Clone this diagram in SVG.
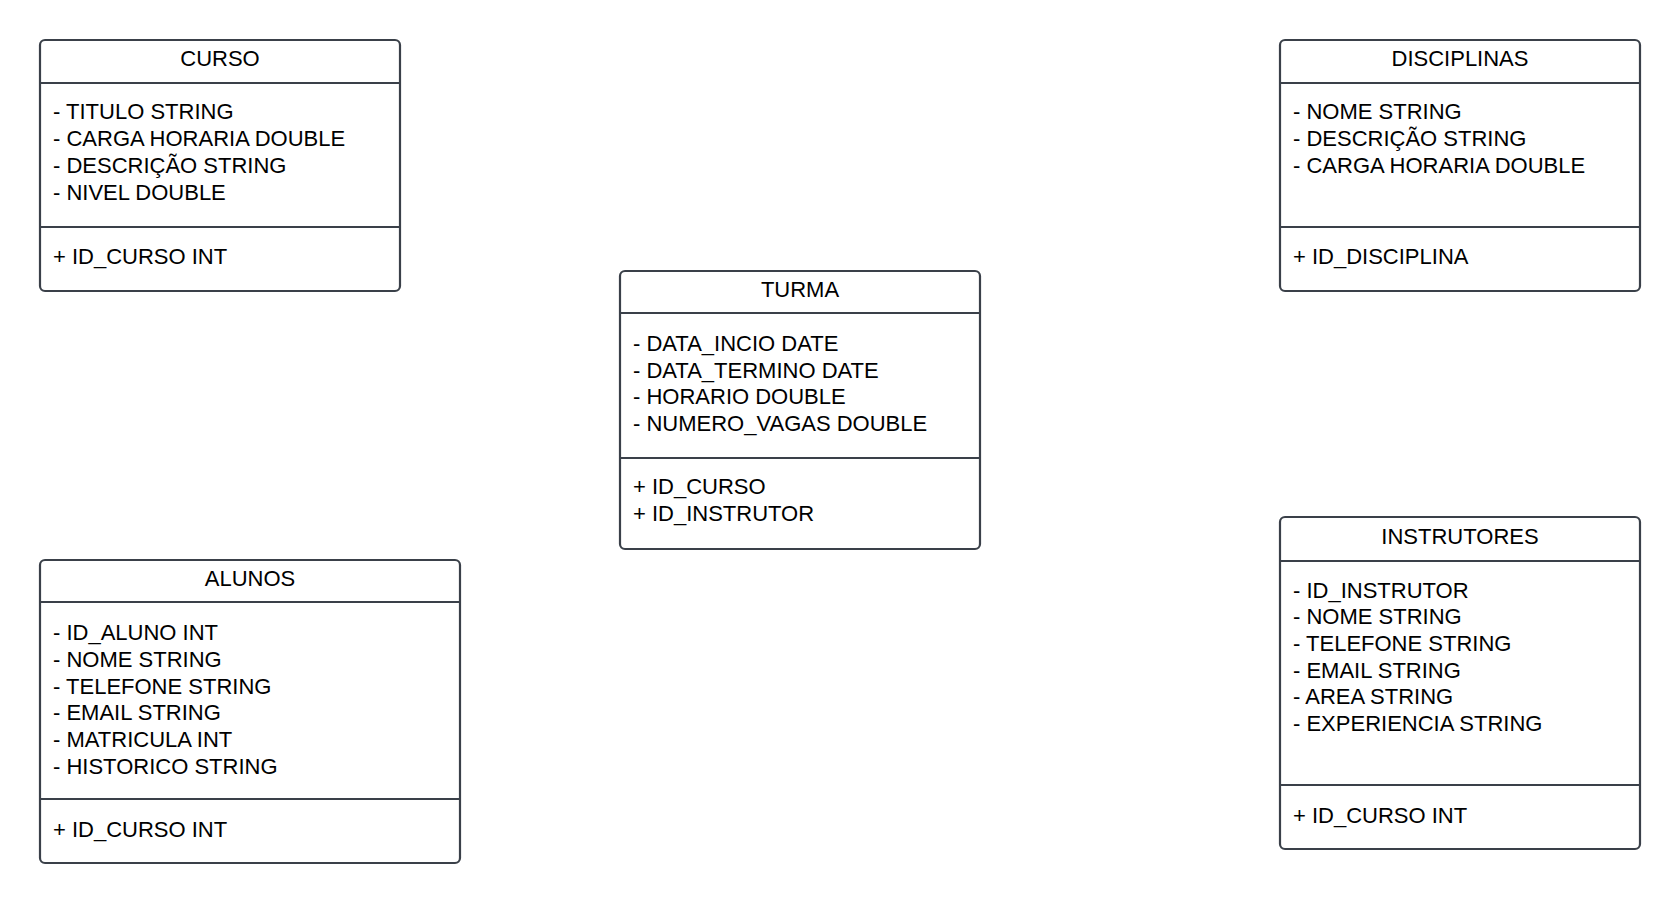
<svg xmlns="http://www.w3.org/2000/svg" width="1680" height="904" viewBox="0 0 1680 904">
<style>
.box{fill:#ffffff;stroke:#3a4049;stroke-width:2.2}
.ln{stroke:#3a4049;stroke-width:2.2}
text{font-family:"Liberation Sans",Arial,sans-serif;font-size:22px;fill:#000000}
.t{text-anchor:middle}
</style>
<rect width="1680" height="904" fill="#ffffff"/>
<g id="curso">
<rect class="box" x="40" y="40" width="360" height="251" rx="5"/>
<line class="ln" x1="40" y1="83" x2="400" y2="83"/>
<line class="ln" x1="40" y1="227" x2="400" y2="227"/>
<text class="t" x="220" y="66">CURSO</text>
<text x="53" y="119">- TITULO STRING</text>
<text x="53" y="146">- CARGA HORARIA DOUBLE</text>
<text x="53" y="173">- DESCRIÇÃO STRING</text>
<text x="53" y="200">- NIVEL DOUBLE</text>
<text x="53" y="264">+ ID_CURSO INT</text>
</g>
<g id="disciplinas">
<rect class="box" x="1280" y="40" width="360" height="251" rx="5"/>
<line class="ln" x1="1280" y1="83" x2="1640" y2="83"/>
<line class="ln" x1="1280" y1="227" x2="1640" y2="227"/>
<text class="t" x="1460" y="66">DISCIPLINAS</text>
<text x="1293" y="119">- NOME STRING</text>
<text x="1293" y="146">- DESCRIÇÃO STRING</text>
<text x="1293" y="173">- CARGA HORARIA DOUBLE</text>
<text x="1293" y="264">+ ID_DISCIPLINA</text>
</g>
<g id="turma">
<rect class="box" x="620" y="271" width="360" height="278" rx="5"/>
<line class="ln" x1="620" y1="313" x2="980" y2="313"/>
<line class="ln" x1="620" y1="458" x2="980" y2="458"/>
<text class="t" x="800" y="297">TURMA</text>
<text x="633" y="351">- DATA_INCIO DATE</text>
<text x="633" y="378">- DATA_TERMINO DATE</text>
<text x="633" y="404">- HORARIO DOUBLE</text>
<text x="633" y="431">- NUMERO_VAGAS DOUBLE</text>
<text x="633" y="494">+ ID_CURSO</text>
<text x="633" y="521">+ ID_INSTRUTOR</text>
</g>
<g id="alunos">
<rect class="box" x="40" y="560" width="420" height="303" rx="5"/>
<line class="ln" x1="40" y1="602" x2="460" y2="602"/>
<line class="ln" x1="40" y1="799" x2="460" y2="799"/>
<text class="t" x="250" y="586">ALUNOS</text>
<text x="53" y="640">- ID_ALUNO INT</text>
<text x="53" y="667">- NOME STRING</text>
<text x="53" y="694">- TELEFONE STRING</text>
<text x="53" y="720">- EMAIL STRING</text>
<text x="53" y="747">- MATRICULA INT</text>
<text x="53" y="774">- HISTORICO STRING</text>
<text x="53" y="837">+ ID_CURSO INT</text>
</g>
<g id="instrutores">
<rect class="box" x="1280" y="517" width="360" height="332" rx="5"/>
<line class="ln" x1="1280" y1="561" x2="1640" y2="561"/>
<line class="ln" x1="1280" y1="785" x2="1640" y2="785"/>
<text class="t" x="1460" y="544">INSTRUTORES</text>
<text x="1293" y="598">- ID_INSTRUTOR</text>
<text x="1293" y="624">- NOME STRING</text>
<text x="1293" y="651">- TELEFONE STRING</text>
<text x="1293" y="678">- EMAIL STRING</text>
<text x="1293" y="704">- AREA STRING</text>
<text x="1293" y="731">- EXPERIENCIA STRING</text>
<text x="1293" y="823">+ ID_CURSO INT</text>
</g>
<g id="connectors"></g>
</svg>
